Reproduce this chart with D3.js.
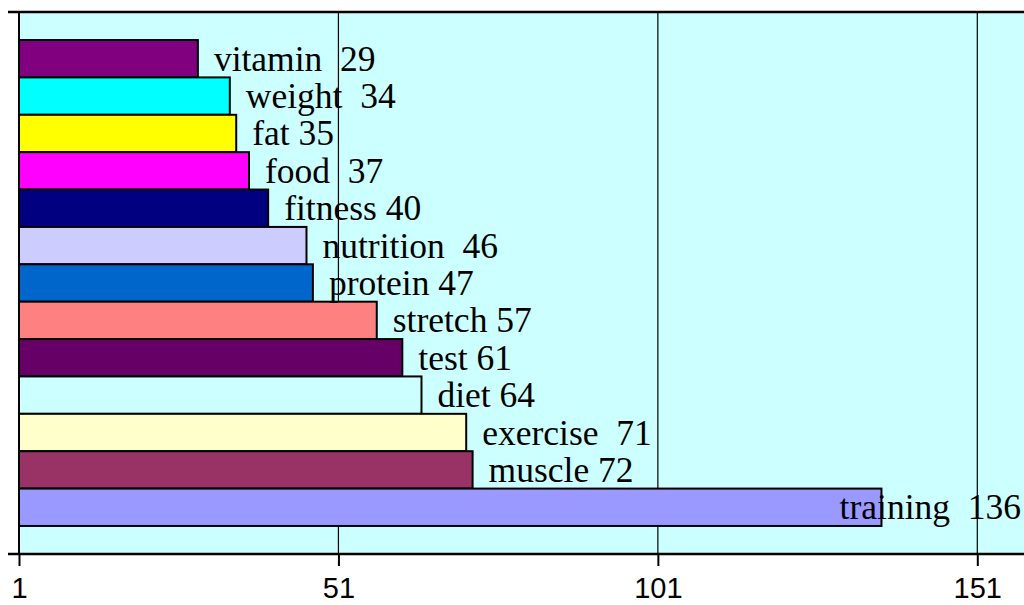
<!DOCTYPE html>
<html><head><meta charset="utf-8">
<script src="https://cdn.jsdelivr.net/npm/d3@7"></script>
<style>html,body{margin:0;padding:0;background:#fff;overflow:hidden}</style>
</head><body>
<svg id="c" width="1024" height="605"></svg>
<script>
const categories = ["vitamin","weight","fat","food","fitness","nutrition","protein","stretch","test","diet","exercise","muscle","training"];
const values = [29,34,35,37,40,46,47,57,61,64,71,72,136];
const labels = ["vitamin  29","weight  34","fat 35","food  37","fitness 40","nutrition  46","protein 47","stretch 57","test 61","diet 64","exercise  71","muscle 72","training  136"];
const colors = ["#800080","#00FFFF","#FFFF00","#FF00FF","#000080","#CCCCFF","#0066CC","#FF8080","#660066","#CCFFFF","#FFFFCC","#993366","#9999FF"];
const tickValues = [1,51,101,151];

(function(){
const svg = d3.select("#c");
const pL = 19, pT = 12, pB = 554, pR = 1040;
const x = d3.scaleLinear().domain([1,151]).range([pL,977.3]);
const y = d3.scaleBand().domain(categories).range([pT,pB]).paddingInner(0).paddingOuter(0.75);

// plot background
svg.append("rect").attr("x",pL).attr("y",pT).attr("width",pR-pL).attr("height",pB-pT).attr("fill","#CCFFFF");

// gridlines
svg.append("g").selectAll("line").data(tickValues.slice(1)).join("line")
  .attr("x1",d=>x(d)).attr("x2",d=>x(d)).attr("y1",pT).attr("y2",pB)
  .attr("stroke","#000").attr("stroke-width",1.2);

// bars
svg.append("g").selectAll("rect").data(values).join("rect")
  .attr("x",x(1)).attr("y",(d,i)=>y(categories[i]))
  .attr("width",d=>x(d)-x(1)).attr("height",y.bandwidth())
  .attr("fill",(d,i)=>colors[i]).attr("stroke","#000").attr("stroke-width",2);

// top border
svg.append("line").attr("x1",8).attr("x2",1024).attr("y1",pT).attr("y2",pT).attr("stroke","#000").attr("stroke-width",2.5);

// y axis
svg.append("line").attr("x1",pL).attr("x2",pL).attr("y1",pT).attr("y2",pB).attr("stroke","#000").attr("stroke-width",2);
svg.append("g").selectAll("line").data([pT,pB]).join("line")
  .attr("x1",8).attr("x2",pL).attr("y1",d=>d).attr("y2",d=>d).attr("stroke","#000").attr("stroke-width",2);

// x axis
const xAxis = d3.axisBottom(x).tickValues(tickValues).tickSize(12).tickPadding(12).tickFormat(d3.format("d"));
const gx = svg.append("g").attr("transform",`translate(0,${pB})`).call(xAxis);
gx.select(".domain").remove();
gx.append("line").attr("x1",8).attr("x2",1024).attr("y1",0).attr("y2",0).attr("stroke","#000").attr("stroke-width",2.5);
gx.selectAll(".tick line").attr("stroke","#000").attr("stroke-width",2);
gx.selectAll(".tick text").attr("font-family","Arial, 'Liberation Sans', sans-serif").attr("font-size",29).attr("fill","#000").attr("dy",null).attr("y",44);

// data labels
const lab = svg.append("g").selectAll("text").data(values).join("text")
  .attr("font-family","'Times New Roman', 'Liberation Serif', serif").attr("font-size",35.5)
  .style("white-space","pre").attr("fill","#000")
  .attr("y",(d,i)=>y(categories[i])+y.bandwidth()/2+12)
  .text((d,i)=>labels[i]);
lab.each(function(d){
  const w = this.getComputedTextLength();
  let tx = x(d)+16;
  if (tx + w > 1021) tx = 1021 - w;
  d3.select(this).attr("x",tx);
});
})();
</script>
</body></html>
